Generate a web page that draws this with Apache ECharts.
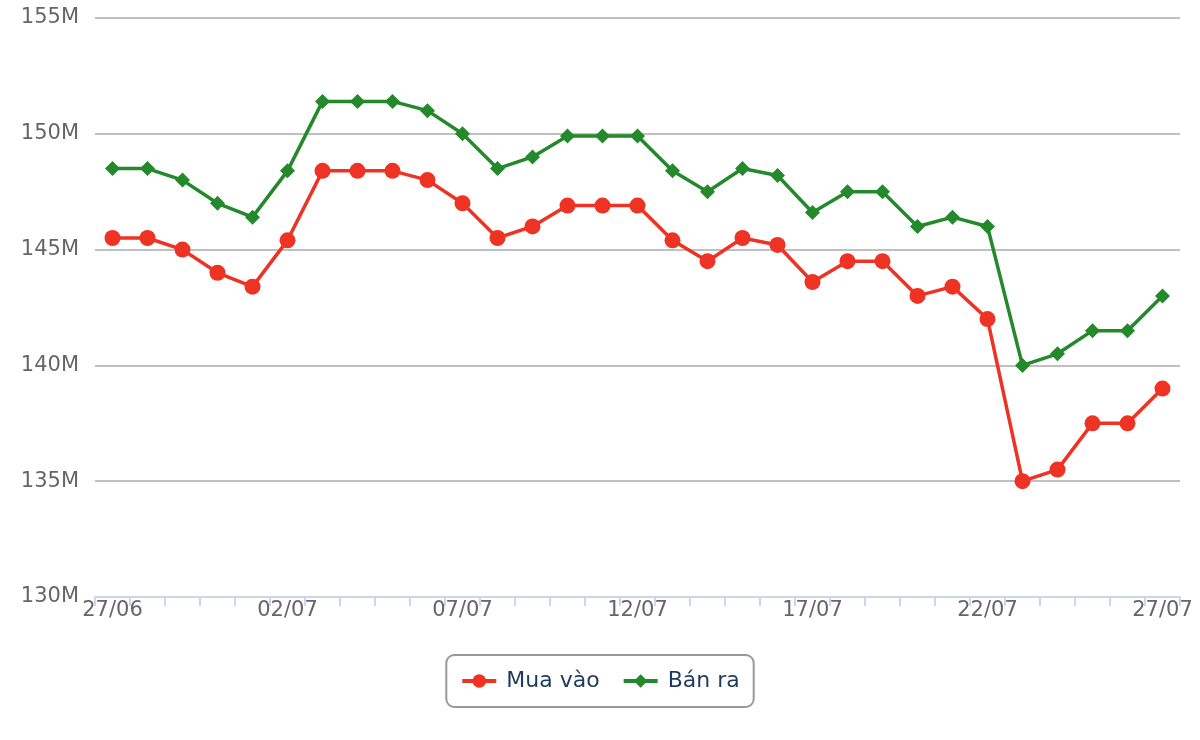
<!DOCTYPE html>
<html>
<head>
<meta charset="utf-8">
<script src="https://cdn.jsdelivr.net/npm/echarts@6/dist/echarts.min.js"></script>
<style>
  html, body { margin: 0; padding: 0; background: #fff; }
  #main { width: 1200px; height: 740px; }
</style>
</head>
<body>
<div id="main"></div>
<script>
var days = ['27/06','28/06','29/06','30/06','01/07','02/07','03/07','04/07','05/07','06/07',
            '07/07','08/07','09/07','10/07','11/07','12/07','13/07','14/07','15/07','16/07',
            '17/07','18/07','19/07','20/07','21/07','22/07','23/07','24/07','25/07','26/07','27/07'];

// gia tinh theo trieu dong
var muaVao = [145.5,145.5,145.0,144.0,143.4,145.4,148.4,148.4,148.4,148.0,
              147.0,145.5,146.0,146.9,146.9,146.9,145.4,144.5,145.5,145.2,
              143.6,144.5,144.5,143.0,143.4,142.0,135.0,135.5,137.5,137.5,139.0];
var banRa  = [148.5,148.5,148.0,147.0,146.4,148.4,151.4,151.4,151.4,151.0,
              150.0,148.5,149.0,149.9,149.9,149.9,148.4,147.5,148.5,148.2,
              146.6,147.5,147.5,146.0,146.4,146.0,140.0,140.5,141.5,141.5,143.0];

var red = '#ee3224', green = '#23892b';
var font = 'DejaVu Sans';

var myChart = echarts.init(document.getElementById('main'));

var option = {
    animation: false,
    textStyle: { fontFamily: font },
    grid: { left: 95, right: 20, top: 18, bottom: 143, containLabel: false },
    legend: {
        bottom: 33,
        left: 'center',
        borderColor: '#999',
        borderWidth: 2,
        borderRadius: 8,
        padding: [15, 14, 15, 14],
        itemGap: 22,
        itemWidth: 34,
        itemHeight: 17,
        lineStyle: { width: 4 },
        textStyle: { color: '#1f3b5c', fontSize: 22, fontFamily: font, padding: [0, 0, 0, 5] },
        data: ['Mua vào', 'Bán ra']
    },
    xAxis: {
        type: 'category',
        data: days,
        boundaryGap: true,
        axisLine: { lineStyle: { color: '#ccd6eb', width: 2 } },
        axisTick: { show: true, length: 9, interval: 0, lineStyle: { color: '#ccd6eb', width: 2 } },
        axisLabel: {
            interval: 4,
            color: '#666',
            fontSize: 21,
            margin: 3,
            fontFamily: font
        }
    },
    yAxis: {
        type: 'value',
        min: 130,
        max: 155,
        interval: 5,
        axisLine: { show: false },
        axisTick: { show: false },
        splitLine: { lineStyle: { color: '#c0c0c0', width: 2 } },
        axisLabel: {
            color: '#666',
            fontSize: 21,
            margin: 16,
            fontFamily: font,
            formatter: function (v) { return v + 'M'; }
        }
    },
    series: [
        {
            name: 'Mua vào',
            type: 'line',
            data: muaVao,
            symbol: 'circle',
            symbolSize: 16,
            lineStyle: { color: red, width: 3.5 },
            itemStyle: { color: red }
        },
        {
            name: 'Bán ra',
            type: 'line',
            data: banRa,
            symbol: 'diamond',
            symbolSize: 15,
            lineStyle: { color: green, width: 3.5 },
            itemStyle: { color: green }
        }
    ]
};

myChart.setOption(option);
</script>
</body>
</html>
